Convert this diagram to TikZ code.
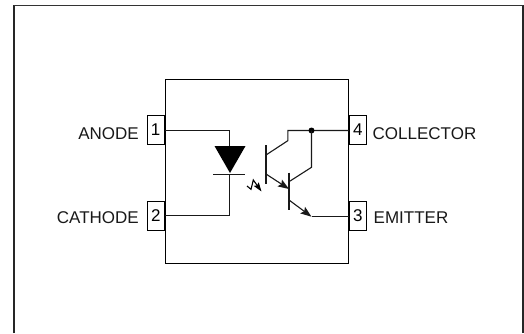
\documentclass[tikz,border=0pt]{standalone}
\usepackage{fontspec}
\setmainfont{Liberation Sans}
\usetikzlibrary{arrows.meta}
\tikzset{
  wire/.style={line width=1.1pt,black!90},
  lbl/.style={font=\fontsize{17}{17}\selectfont,inner sep=0pt,text height=12.2pt,text depth=0pt,text=black!90},
  pinbox/.style={draw,line width=1pt,minimum width=17pt,minimum height=29pt,inner sep=0pt,font=\fontsize{17}{17}\selectfont},
  pkg/.style={draw,line width=1pt,minimum width=183.5pt,minimum height=184pt,inner sep=0pt},
  tip/.style={-{Stealth[length=11pt,width=8pt,inset=2pt]}},
  tipsmall/.style={-{Stealth[length=9pt,width=6pt,inset=1.5pt]}}
}
\begin{document}
\begin{tikzpicture}[x=1pt,y=-1pt]
\useasboundingbox (0,0) rectangle (524,333);
\fill[white] (0,0) rectangle (524,333);
% outer frame
\coordinate (fbl) at (14,333);
\coordinate (ftl) at (14,5.5);
\coordinate (ftr) at (523,5.5);
\coordinate (fbr) at (523,333);
\draw[line width=2.4pt,black!85] (fbl) -- (14,4.8);
\draw[line width=2.4pt,black!85] (fbr) -- (523,4.8);
\draw[line width=1.5pt,black!80] (ftl) -- (ftr);
% package
\node[pkg] (package) at (257,171) {};
% pins
\node[pinbox] (p1) at (155.5,129.5) {1};
\node[pinbox] (p2) at (155.8,215.5) {2};
\node[pinbox] (p4) at (357.8,129.5) {4};
\node[pinbox] (p3) at (357.8,215.5) {3};
% labels
\node[lbl,anchor=east] (anode) at (139,133) {ANODE};
\node[lbl,anchor=east] (cathode) at (139,217.5) {CATHODE};
\node[lbl,anchor=west] (collector) at (372.5,133) {COLLECTOR};
\node[lbl,anchor=west] (emitter) at (373.5,217.5) {EMITTER};
% diode
\coordinate (da) at (229.8,146);
\coordinate (dk) at (229.8,174.8);
\fill[black] (214.5,146) -- (245.5,146) -- (230,173) -- cycle;
\draw[wire] (213,174.8) -- (245,174.8);
\draw[wire] (p1.east |- 0,130.5) -- (da |- 0,130.5) -- (da);
\draw[wire] (dk) -- (dk |- 0,215.8) -- (p2.east |- 0,215.8);
% light arrow
\coordinate (l0) at (247,186);
\coordinate (l1) at (251,189.3);
\coordinate (l2) at (253.3,180);
\coordinate (l3) at (261.5,191.5);
\draw[line width=1.1pt,tipsmall] (l0) -- (l1) -- (l2) -- (l3);
% first transistor
\coordinate (b1t) at (266,145);
\coordinate (b1b) at (266,183.5);
\draw[wire] (b1t) -- (b1b);
\coordinate (c1) at (266,155);
\coordinate (e1) at (266,174);
\coordinate (b2) at (289,189);
\draw[wire] (c1) -- (287.8,140.7) -- (287.8,130.5) -- (p4.west |- 0,130.5);
\draw[wire,tip] (e1) -- (b2);
% second transistor
\coordinate (b2t) at (289,172.7);
\coordinate (b2b) at (289,210);
\draw[wire] (b2t) -- (b2b);
\coordinate (j) at (311.5,130.5);
\fill (j) circle (3pt);
\draw[wire] (289,181.7) -- (311.5,167.3) -- (j);
\coordinate (e2k) at (311.5,216.7);
\draw[wire,tip] (289,200) -- (e2k);
\draw[wire] (e2k) -- (p3.west |- e2k);
\end{tikzpicture}
\end{document}
